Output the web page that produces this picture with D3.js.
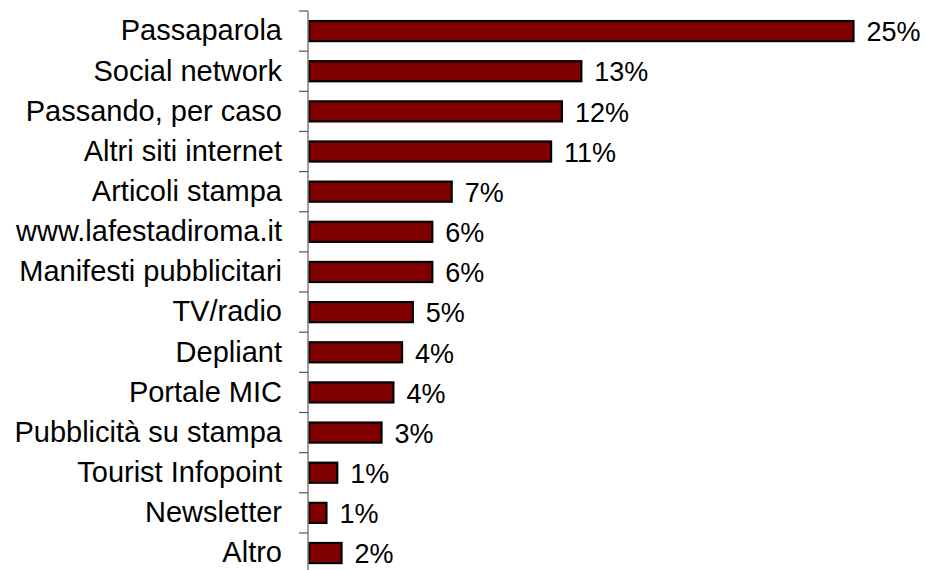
<!DOCTYPE html>
<html><head><meta charset="utf-8">
<script src="https://cdn.jsdelivr.net/npm/d3@7"></script>
<style>body{margin:0;background:#fff}svg{display:block}</style>
</head><body>
<script>
const categories = ["Passaparola","Social network","Passando, per caso","Altri siti internet","Articoli stampa","www.lafestadiroma.it","Manifesti pubblicitari","TV/radio","Depliant","Portale MIC","Pubblicità su stampa","Tourist Infopoint","Newsletter","Altro"];
const values = [0.253,0.127,0.118,0.113,0.067,0.058,0.058,0.049,0.044,0.040,0.0345,0.014,0.009,0.016];

const W=926,H=570;
const svg=d3.select("body").append("svg").attr("width",W).attr("height",H);
const x=d3.scaleLinear().domain([0,0.30]).range([308,308+0.30*2160]);
const y=d3.scaleBand().domain(categories).range([11,11+40.15*14]).paddingInner(0.5).paddingOuter(0.25);
const font="Liberation Sans, Arial, sans-serif";

// bars
svg.selectAll("rect.bar").data(categories).join("rect")
  .attr("x",x(0)+1).attr("y",d=>y(d))
  .attr("width",(d,i)=>x(values[i])-x(0)-2).attr("height",y.bandwidth())
  .attr("fill","#800000").attr("stroke","#000").attr("stroke-width",2.2);

// axis
const yAxis=d3.axisLeft(y).tickSize(0).tickPadding(26);
const g=svg.append("g").attr("transform",`translate(308,0)`).call(yAxis);
g.select(".domain").remove();
g.selectAll("text").attr("font-family",font).attr("font-size",29).attr("fill","#000");
// category boundary ticks
const bounds=d3.range(categories.length+1).map(i=>11+40.15*i);
svg.append("line").attr("x1",308).attr("x2",308).attr("y1",11).attr("y2",bounds[14]).attr("stroke","#808080").attr("stroke-width",1.5);
svg.selectAll("line.tk").data(bounds).join("line").attr("class","tk")
  .attr("x1",299).attr("x2",308).attr("y1",d=>d).attr("y2",d=>d).attr("stroke","#555").attr("stroke-width",1.2);

// value labels
svg.selectAll("text.val").data(categories).join("text")
  .attr("x",(d,i)=>x(values[i])+12).attr("y",d=>y(d)+y.bandwidth()/2).attr("dy","0.38em")
  .attr("font-family",font).attr("font-size",27).attr("fill","#000")
  .text((d,i)=>d3.format(".0%")(values[i]));
</script>
</body></html>
